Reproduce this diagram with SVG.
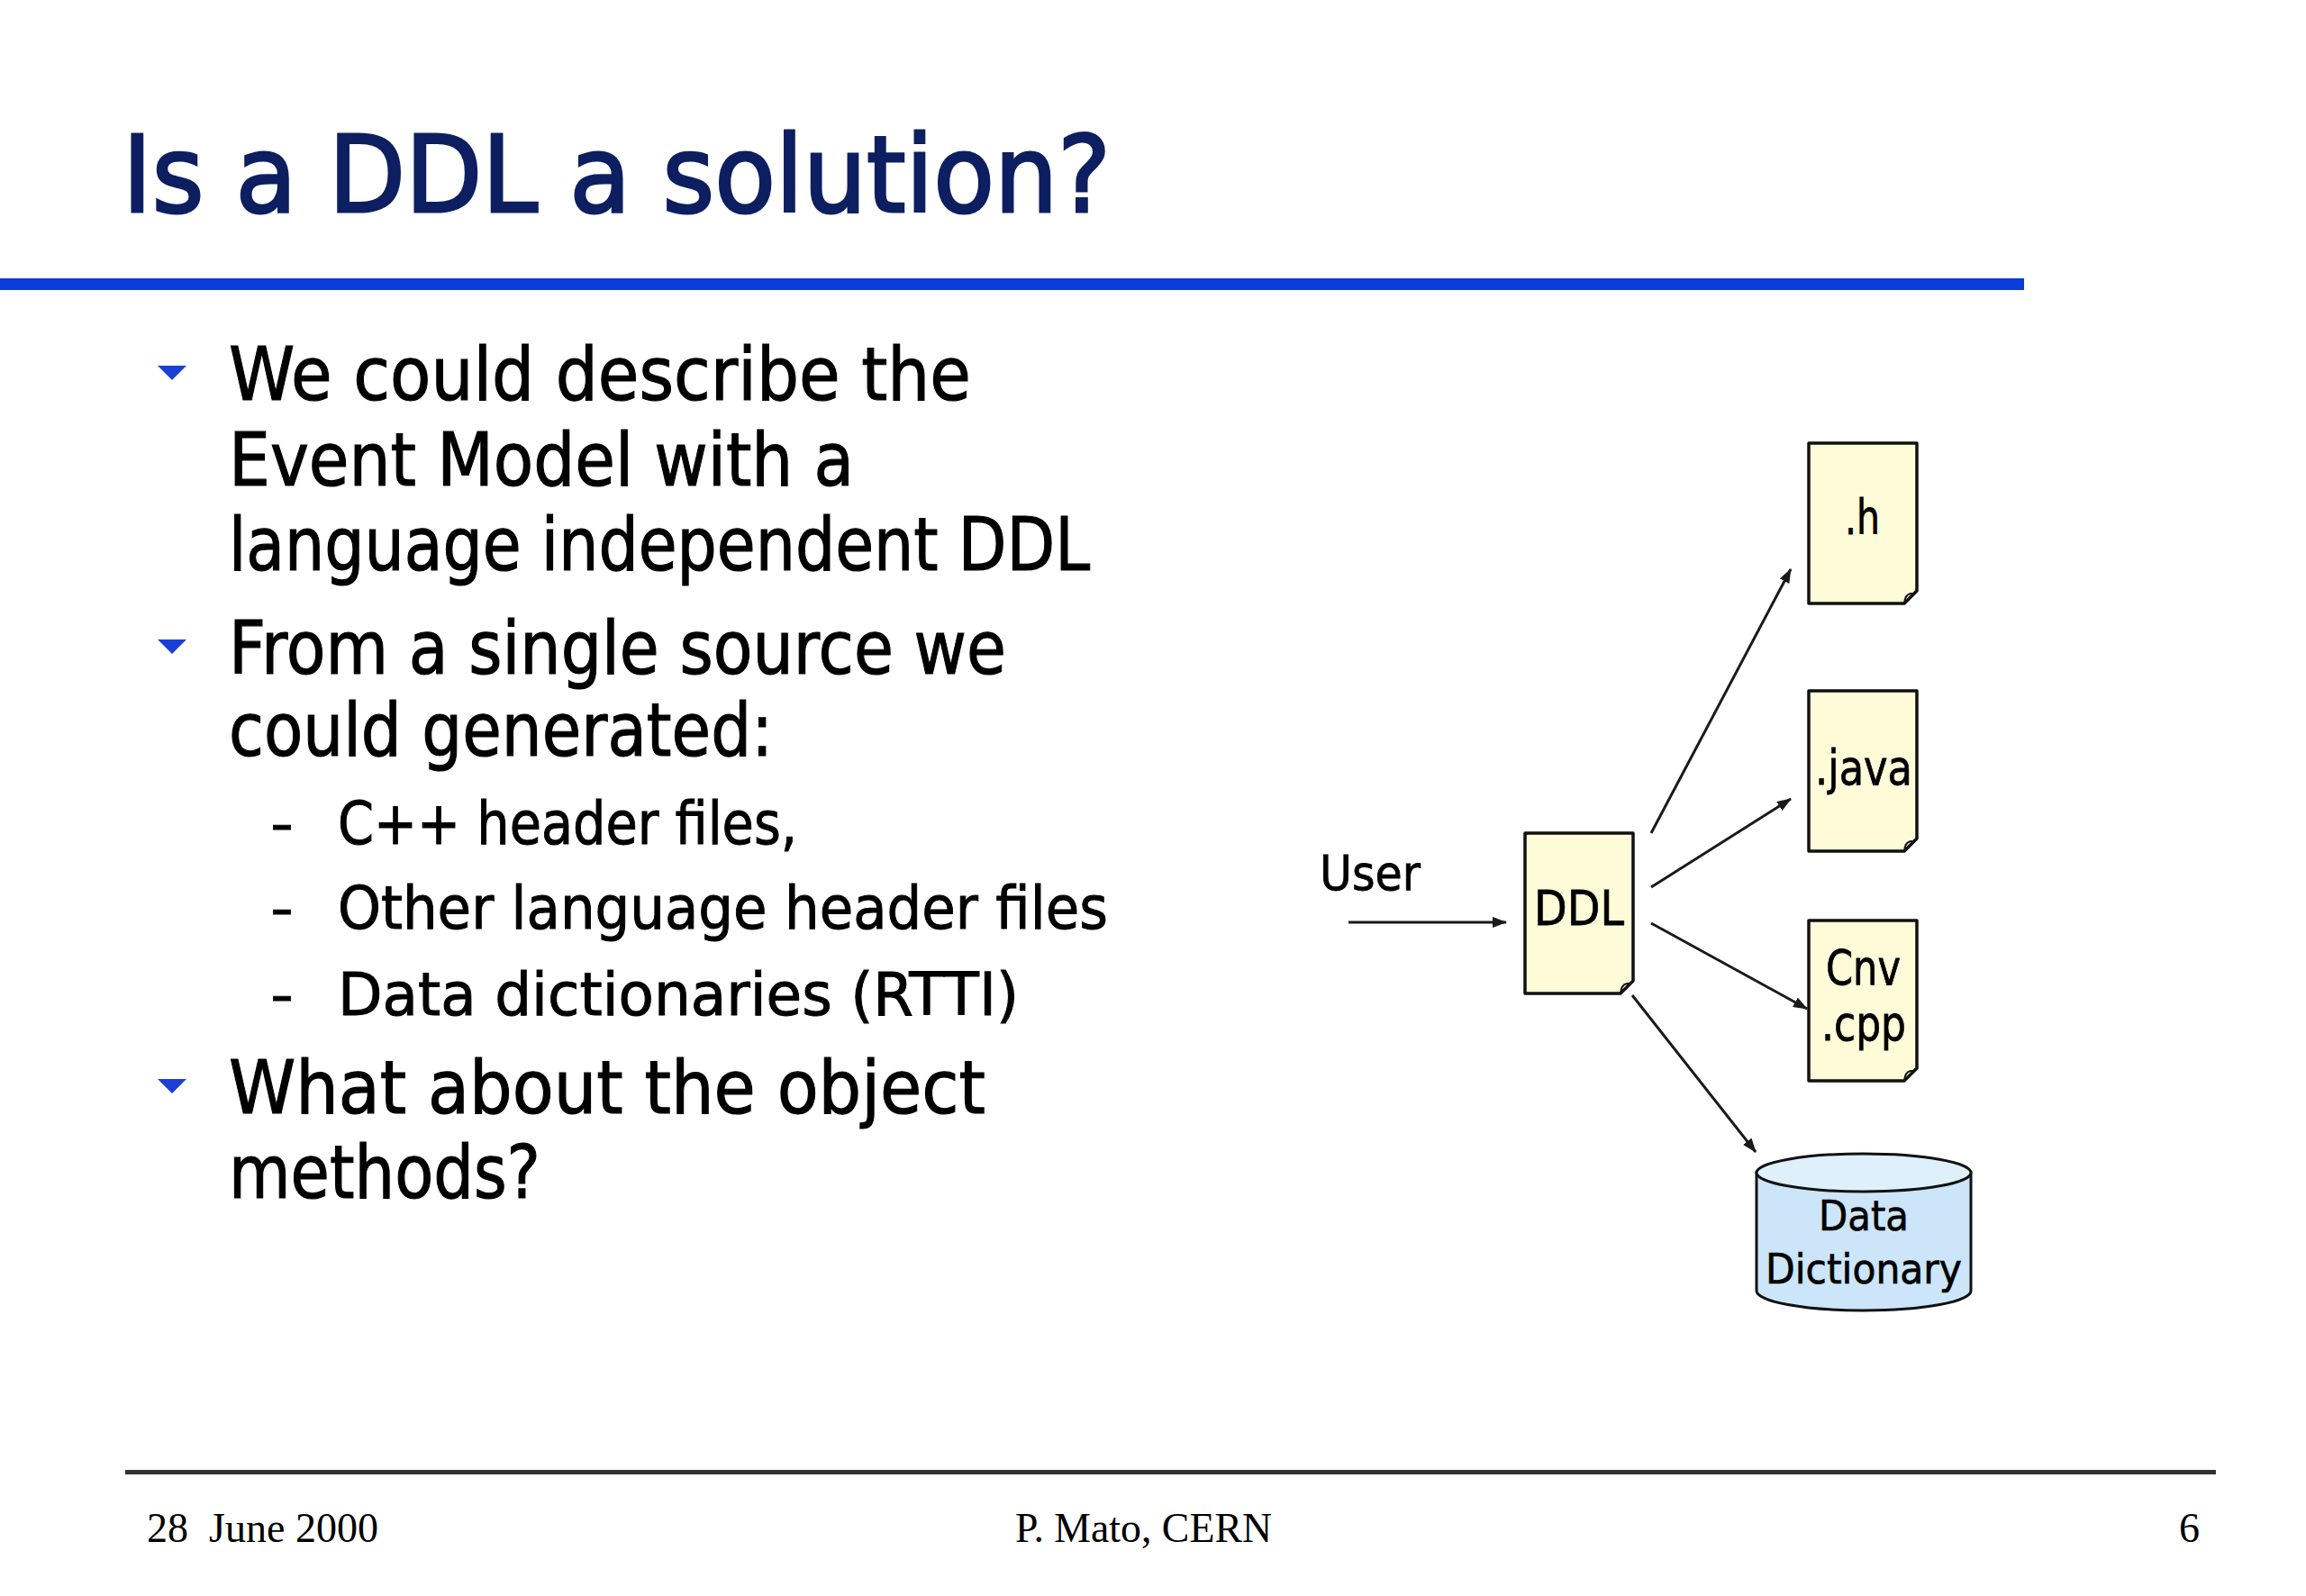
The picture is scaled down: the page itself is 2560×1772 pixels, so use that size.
<svg xmlns="http://www.w3.org/2000/svg" width="2560" height="1772" viewBox="0 0 2560 1772">
<style>
.title{font-family:"DejaVu Sans","Liberation Sans",sans-serif;font-size:117px;fill:#0d1f60;stroke:#0d1f60;stroke-width:3}
.b1{font-family:"DejaVu Sans","Liberation Sans",sans-serif;font-size:82px;fill:#000;stroke:#000;stroke-width:1.2}
.b2{font-family:"DejaVu Sans","Liberation Sans",sans-serif;font-size:66px;fill:#000;stroke:#000;stroke-width:1}
.lbl{font-family:"DejaVu Sans","Liberation Sans",sans-serif;font-size:54px;fill:#000;stroke:#000;stroke-width:0.8}
.dd{font-family:"DejaVu Sans","Liberation Sans",sans-serif;font-size:47px;fill:#000;stroke:#000;stroke-width:0.7}
.foot{font-family:"Liberation Serif","Times New Roman",serif;font-size:46px;fill:#000}
.tri{fill:#1b3fd6}
.doc{fill:#fdfbd8;stroke:#111;stroke-width:3.5;stroke-linejoin:round}
.curl{fill:none;stroke:#111;stroke-width:2}
.conn{stroke:#1a1a1a;stroke-width:3;fill:none}
</style>
<defs>
<marker id="ah" viewBox="0 0 16 12" refX="15" refY="6" markerWidth="16" markerHeight="12" markerUnits="userSpaceOnUse" orient="auto">
<path d="M0,0 L16,6 L0,12 Z" fill="#1a1a1a"/>
</marker>
</defs>
<rect x="0" y="0" width="2560" height="1772" fill="#fff"/>

<g id="title">
<text class="title" x="136" y="235" textLength="1097" lengthAdjust="spacingAndGlyphs">Is a DDL a solution?</text>
<rect x="0" y="309" width="2247" height="13" fill="#0b3bd9"/>
</g>

<g id="bullets">
<polygon class="tri" points="175,406 207,406 191,422"/>
<text class="b1" x="254" y="444" textLength="824" lengthAdjust="spacingAndGlyphs">We could describe the</text>
<text class="b1" x="254" y="539" textLength="694" lengthAdjust="spacingAndGlyphs">Event Model with a</text>
<text class="b1" x="254" y="633" textLength="956" lengthAdjust="spacingAndGlyphs">language independent DDL</text>
<polygon class="tri" points="175,710 207,710 191,726"/>
<text class="b1" x="254" y="748" textLength="863" lengthAdjust="spacingAndGlyphs">From a single source we</text>
<text class="b1" x="254" y="839" textLength="604" lengthAdjust="spacingAndGlyphs">could generated:</text>
<text class="b2" x="301" y="937" textLength="24" lengthAdjust="spacingAndGlyphs">–</text>
<text class="b2" x="375" y="937" textLength="510" lengthAdjust="spacingAndGlyphs">C++ header files,</text>
<text class="b2" x="301" y="1031" textLength="24" lengthAdjust="spacingAndGlyphs">–</text>
<text class="b2" x="375" y="1031" textLength="855" lengthAdjust="spacingAndGlyphs">Other language header files</text>
<text class="b2" x="301" y="1127" textLength="24" lengthAdjust="spacingAndGlyphs">–</text>
<text class="b2" x="375" y="1127" textLength="756" lengthAdjust="spacingAndGlyphs">Data dictionaries (RTTI)</text>
<polygon class="tri" points="175,1198 207,1198 191,1214"/>
<text class="b1" x="254" y="1236" textLength="840" lengthAdjust="spacingAndGlyphs">What about the object</text>
<text class="b1" x="254" y="1330" textLength="346" lengthAdjust="spacingAndGlyphs">methods?</text>
</g>

<g id="connectors">
<line class="conn" x1="1497" y1="1024" x2="1672" y2="1024" marker-end="url(#ah)"/>
<line class="conn" x1="1833" y1="925" x2="1988" y2="632" marker-end="url(#ah)"/>
<line class="conn" x1="1833" y1="985" x2="1988" y2="887" marker-end="url(#ah)"/>
<line class="conn" x1="1833" y1="1025" x2="2006" y2="1120" marker-end="url(#ah)"/>
<line class="conn" x1="1812" y1="1105" x2="1949" y2="1279" marker-end="url(#ah)"/>
</g>

<g id="user">
<text class="lbl" x="1465" y="988" textLength="112" lengthAdjust="spacingAndGlyphs">User</text>
</g>

<g id="ddl">
<path class="doc" d="M1693,925 H1813 V1089 L1799,1103 H1693 Z"/>
<path class="curl" d="M1799,1103 Q1800,1093 1806,1092 Q1811,1092 1813,1089"/>
<text class="lbl" x="1703" y="1027" textLength="100" lengthAdjust="spacingAndGlyphs">DDL</text>
</g>

<g id="doc-h">
<path class="doc" d="M2008,492 H2128 V656 L2114,670 H2008 Z"/>
<path class="curl" d="M2114,670 Q2115,660 2121,659 Q2126,659 2128,656"/>
<text class="lbl" x="2048" y="593" textLength="39" lengthAdjust="spacingAndGlyphs">.h</text>
</g>

<g id="doc-java">
<path class="doc" d="M2008,767 H2128 V931 L2114,945 H2008 Z"/>
<path class="curl" d="M2114,945 Q2115,935 2121,934 Q2126,934 2128,931"/>
<text class="lbl" x="2015" y="871" textLength="108" lengthAdjust="spacingAndGlyphs">.java</text>
</g>

<g id="doc-cnv">
<path class="doc" d="M2008,1022 H2128 V1186 L2114,1200 H2008 Z"/>
<path class="curl" d="M2114,1200 Q2115,1190 2121,1189 Q2126,1189 2128,1186"/>
<text class="lbl" x="2027" y="1093" textLength="83" lengthAdjust="spacingAndGlyphs">Cnv</text>
<text class="lbl" x="2022" y="1155" textLength="94" lengthAdjust="spacingAndGlyphs">.cpp</text>
</g>

<g id="data-dictionary">
<path d="M1950,1302 V1433 A119,22 0 0 0 2188,1433 V1302 Z" fill="#cce5f8" stroke="#111" stroke-width="3"/>
<ellipse cx="2069" cy="1302" rx="119" ry="21" fill="#def0fc" stroke="#111" stroke-width="3"/>
<text class="dd" x="2019" y="1366" textLength="100" lengthAdjust="spacingAndGlyphs">Data</text>
<text class="dd" x="1960" y="1425" textLength="218" lengthAdjust="spacingAndGlyphs">Dictionary</text>
</g>

<g id="footer">
<rect x="139" y="1632" width="2321" height="5" fill="#333"/>
<text class="foot" x="163" y="1712" xml:space="preserve" textLength="257" lengthAdjust="spacingAndGlyphs">28  June 2000</text>
<text class="foot" x="1127" y="1712" textLength="285" lengthAdjust="spacingAndGlyphs">P. Mato, CERN</text>
<text class="foot" x="2419" y="1712">6</text>
</g>
</svg>
